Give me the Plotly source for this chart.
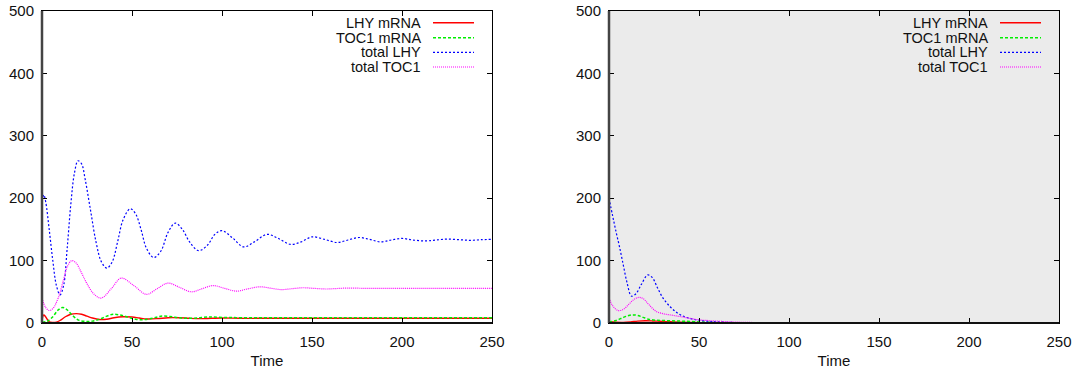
import plotly.graph_objects as go

# ---------------- data ----------------
# Left panel
tL_lhy_mrna = [0, 1, 2, 4, 6, 8, 10, 13, 16, 19, 22, 25, 28, 32, 36, 40, 45, 50, 54, 58, 64, 70, 76, 82, 88, 94, 100, 110, 120, 130, 150, 170, 200, 250]
vL_lhy_mrna = [4, 13, 10, 2, 1, 1.5, 4, 10, 14, 15, 14, 11, 8, 5.5, 6, 8.5, 10, 9.5, 8, 6.5, 7, 8.5, 8.5, 7.5, 7, 7.5, 8, 7.5, 7.5, 7.5, 7.5, 7.5, 7.5, 7.5]

tL_toc1_mrna = [0, 3, 6, 9, 11.5, 14, 17, 20, 24, 28, 32, 36, 39.5, 43, 47, 52, 57, 62, 66, 71, 76, 80, 86, 92, 100, 110, 130, 160, 200, 250]
vL_toc1_mrna = [1, 3, 10, 21, 25, 21, 12, 5, 2.5, 3, 6, 11, 14, 13, 10, 6, 5.5, 8, 11, 10.5, 8.5, 7.5, 8, 9.5, 9, 8.5, 8.5, 8.5, 8.5, 8.5]

tL_total_lhy = [0, 1, 2, 4, 6, 8, 10, 12, 14, 16, 18, 20, 22, 24, 27, 30, 33, 36, 39, 42, 45, 49, 52, 55, 58, 62, 66, 70, 74, 78, 82, 87, 92, 96, 100, 106, 112, 118, 125, 131, 138, 144, 150, 157, 164, 170, 176, 182, 188, 194, 200, 206, 213, 219, 225, 232, 238, 244, 250]
vL_total_lhy = [195, 205, 195, 150, 100, 60, 45, 60, 120, 190, 240, 260, 255, 230, 180, 130, 98, 88, 98, 130, 165, 183, 175, 150, 120, 105, 115, 145, 160, 150, 130, 116, 125, 142, 148, 136, 122, 130, 142, 136, 126, 130, 138, 134, 129, 133, 137, 134, 130, 133, 135.5, 133, 131.5, 133, 134.5, 133.5, 132.5, 133.5, 134]

tL_total_toc1 = [0, 2, 4, 6, 9, 12, 14, 16.5, 19, 22, 25, 29, 33, 38.5, 44, 51, 58, 64, 70, 76.5, 83, 89, 95, 101.5, 108, 114, 121, 127, 133, 139, 145, 151, 158, 164, 170, 180, 190, 200, 215, 230, 250]
vL_total_toc1 = [40, 25, 20, 23, 40, 70, 90, 100, 96, 80, 63, 46, 40, 55, 72, 60, 46, 55, 64, 57, 50, 55, 60, 55.5, 51, 54.5, 58, 55.8, 53.5, 55, 56.5, 55.5, 54.5, 55.3, 56, 55.5, 55.6, 55.5, 55.6, 55.5, 55.6]

# Right panel
tR_lhy_mrna = [0, 4, 8, 12, 16, 20, 24, 28, 34, 40, 48, 56, 70, 90, 120, 250]
vR_lhy_mrna = [2.5, 1.2, 1, 1.8, 3, 3.5, 3.3, 2.8, 2, 1.4, 0.8, 0.4, 0.1, 0, 0, 0]

tR_toc1_mrna = [0, 4, 8, 11, 13.5, 16, 19, 22, 26, 30, 35, 40, 45, 50, 55, 60, 70, 85, 100, 150, 250]
vR_toc1_mrna = [1.5, 4, 9, 12, 13, 12, 9, 6, 4.5, 4, 3.5, 3, 2.5, 1.8, 1.2, 0.8, 0.4, 0.1, 0, 0, 0]

tR_total_lhy = [0, 2, 4, 6, 8, 10, 12.5, 15, 18, 21.5, 24, 27, 30, 34, 38, 42, 46, 50, 55, 60, 70, 80, 100, 130, 170, 210, 250]
vR_total_lhy = [200, 172, 145, 120, 92, 65, 43, 47, 62, 77, 73, 56, 40, 26, 16, 10, 6.5, 4.5, 2.8, 1.8, 0.8, 0.3, 0.1, 0, 0, 0, 0]

tR_total_toc1 = [0, 2, 5, 8, 11, 14, 16.5, 19, 22, 26, 30, 35, 40, 45, 50, 55, 60, 70, 80, 100, 130, 170, 250]
vR_total_toc1 = [40, 28, 20, 22, 30, 38, 41, 39, 30, 19, 15, 12.5, 10, 7.5, 5, 4, 3, 1.5, 0.8, 0.2, 0, 0, 0]

series_names = ["LHY mRNA", "TOC1 mRNA", "total LHY", "total TOC1"]
x_ticks = [0, 50, 100, 150, 200, 250]
y_ticks = [0, 100, 200, 300, 400, 500]
x_title = "Time"

# ---------------- styles ----------------
W, H = 1077, 374
styles = [
    dict(color="#ff0000", width=1.4, dash="solid"),
    dict(color="#00ee00", width=1.5, dash="3px,2px"),
    dict(color="#0000ff", width=1.2, dash="2px,2px"),
    dict(color="#ff00ff", width=1.2, dash="1px,1px"),
]
FONT = "Liberation Sans, Arial, Helvetica, sans-serif"
FS = 15
FS_LEG = 14.5

left = [(tL_lhy_mrna, vL_lhy_mrna), (tL_toc1_mrna, vL_toc1_mrna),
        (tL_total_lhy, vL_total_lhy), (tL_total_toc1, vL_total_toc1)]
right = [(tR_lhy_mrna, vR_lhy_mrna), (tR_toc1_mrna, vR_toc1_mrna),
         (tR_total_lhy, vR_total_lhy), (tR_total_toc1, vR_total_toc1)]

fig = go.Figure()
for (t, v), st, nm in zip(left, styles, series_names):
    fig.add_trace(go.Scatter(x=t, y=v, mode="lines", name=nm, line=dict(shape="spline", **st),
                             xaxis="x", yaxis="y", showlegend=False))
for (t, v), st, nm in zip(right, styles, series_names):
    fig.add_trace(go.Scatter(x=t, y=v, mode="lines", name=nm, line=dict(shape="spline", **st),
                             xaxis="x2", yaxis="y2", showlegend=False))

# pixel geometry
lx0, lx1 = 42, 492
rx0, rx1 = 609, 1059
ytop, ybot = 11, 323
ydom = [1 - ybot / H, 1 - ytop / H]

def xax(dom, anchor):
    return dict(domain=dom, range=[0, 250], tickvals=x_ticks, ticks="inside", ticklen=5,
                tickcolor="#000", showline=True, linecolor="#000", linewidth=1, mirror="ticks",
                showgrid=False, zeroline=False, anchor=anchor, automargin=False,
                ticklabelstandoff=5,
                tickfont=dict(family=FONT, size=FS, color="#111"),
                title=dict(text=x_title, font=dict(family=FONT, size=FS, color="#111"), standoff=6))

def yax(anchor):
    return dict(domain=ydom, range=[0, 500], tickvals=y_ticks, ticks="inside", ticklen=5,
                tickcolor="#000", showline=True, linecolor="#000", linewidth=1, mirror="ticks",
                showgrid=False, zeroline=False, anchor=anchor, automargin=False,
                ticklabelstandoff=4,
                tickfont=dict(family=FONT, size=FS, color="#111"))

fig.update_layout(
    width=W, height=H, autosize=False,
    margin=dict(l=0, r=0, t=0, b=0, pad=0),
    paper_bgcolor="white", plot_bgcolor="white",
    xaxis=xax([lx0 / W, lx1 / W], "y"),
    yaxis=yax("x"),
    xaxis2=xax([rx0 / W, rx1 / W], "y2"),
    yaxis2=yax("x2"),
    showlegend=False,
)

shapes = []
# grey background of right panel
shapes.append(dict(type="rect", xref="x2 domain", yref="y2 domain", x0=0, x1=1, y0=0, y1=1,
                   fillcolor="#ebebeb", line=dict(width=0), layer="below"))
# thicker left/bottom axes (gnuplot zero axes look)
for xr, yr in [("x domain", "y domain"), ("x2 domain", "y2 domain")]:
    shapes.append(dict(type="line", xref=xr, yref=yr, x0=0, x1=0, y0=0, y1=1,
                       line=dict(color="#444", width=2.5), layer="above"))
    shapes.append(dict(type="line", xref=xr, yref=yr, x0=0, x1=1, y0=0, y1=0,
                       line=dict(color="#111", width=2), layer="above"))

# legends (gnuplot style: right-aligned text, sample to the right)
rows = [22.7, 37.7, 52.3, 67]
annotations = []
for px0 in (lx1, rx1):
    text_right = px0 - 69
    s0, s1 = px0 - 59, px0 - 18
    for nm, st, ry in zip(series_names, styles, rows):
        yp = 1 - ry / H
        annotations.append(dict(text=nm, xref="paper", yref="paper", x=text_right / W, y=yp,
                                xanchor="right", yanchor="middle", showarrow=False,
                                font=dict(family=FONT, size=FS_LEG, color="#111")))
        shapes.append(dict(type="line", xref="paper", yref="paper", x0=s0 / W, x1=s1 / W,
                           y0=yp, y1=yp, line=dict(color=st["color"], width=st["width"], dash=st["dash"])))

fig.update_layout(shapes=shapes, annotations=annotations)
fig.write_html("out.html", config={"displayModeBar": False},
               post_script="document.body.style.margin='0px';document.body.style.padding='0px';"
                           "document.body.style.overflow='hidden';")
